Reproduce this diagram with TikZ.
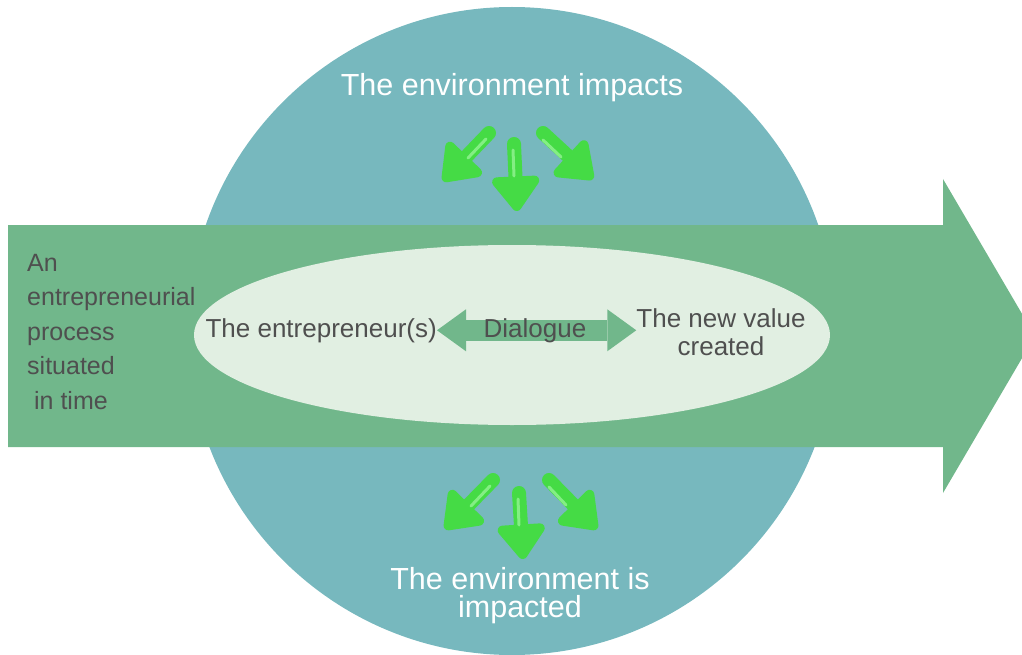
\documentclass[tikz,border=0pt]{standalone}
\usepackage{fontspec}
\setmainfont{Liberation Sans}
\usetikzlibrary{arrows.meta}
\definecolor{envteal}{HTML}{77B8BE}
\definecolor{procgreen}{HTML}{71B78B}
\definecolor{valuepale}{HTML}{E1EFE2}
\definecolor{pushgreen}{HTML}{45DB45}
\definecolor{pushlight}{HTML}{84EE84}
\definecolor{textgray}{HTML}{4F4F4F}
\begin{document}
\begin{tikzpicture}[x=1pt,y=-1pt,
        label/.style={text=textgray,inner sep=0pt,font=\fontsize{26}{28}\selectfont},
        env/.style={text=white,inner sep=0pt,align=center,font=\fontsize{30.5}{28}\selectfont},
        push/.style={draw=pushgreen,line width=14pt,line cap=round,
            -{Triangle[round,width=54pt,length=38pt]}},
        shine/.style={draw=pushlight,line width=3pt,line cap=round},
        dialog/.style={draw=procgreen,line width=21pt,
            {Triangle[width=42pt,length=29pt,line width=0pt]}-{Triangle[width=42pt,length=29pt,line width=0pt]}}]
        \useasboundingbox (0,0) rectangle (1022,655);
        \clip (0,0) rectangle (1022,655);

        % Umfeld
        \fill[envteal] (512,331) circle (324pt);

        % Prozess
        \fill[procgreen] (8,225) -- (943,225) -- (943,179) -- (1035,336)
                   -- (943,493) -- (943,447) -- (8,447) -- cycle;
        \fill[valuepale] (512,335) ellipse (318pt and 90pt);

        % Texte
        \node[label,anchor=base west,align=left,font=\fontsize{25}{34.5}\selectfont] (process)
            at (27,409) {An\\entrepreneurial\\process\\situated\\\ in time};
        \node[label,anchor=base east] (ent) at (437,337) {The entrepreneur(s)};
        \node[label,anchor=base,align=center] (val) at (721,355) {The new value\\created};
        \node[env,anchor=base] (impacts) at (512,96) {The environment impacts};
        \node[env,anchor=base] (impacted) at (520,617) {The environment is\\impacted};

        % Dialog
        \draw[dialog] (ent.east) -- (ent.east -| val.west);
        \node[label,anchor=base] (dia) at (535,337) {Dialogue};

        % Pfeile oben
        \draw[push] (489,133) -- (443,181);
        \draw[push] (514,144) -- (517,211);
        \draw[push] (543,133) -- (593,179);
        \draw[shine] (486,139) -- (468,158);
        \draw[shine] (513,150) -- (514,176);
        \draw[shine] (543,140) -- (561,157);

        % Pfeile unten
        \draw[push] (493,480) -- (445,529);
        \draw[push] (519,493) -- (523,559);
        \draw[push] (549,480) -- (597,529);
        \draw[shine] (490,486) -- (471,506);
        \draw[shine] (518,499) -- (519,525);
        \draw[shine] (549,487) -- (566,505);
    \end{tikzpicture}
\end{document}
